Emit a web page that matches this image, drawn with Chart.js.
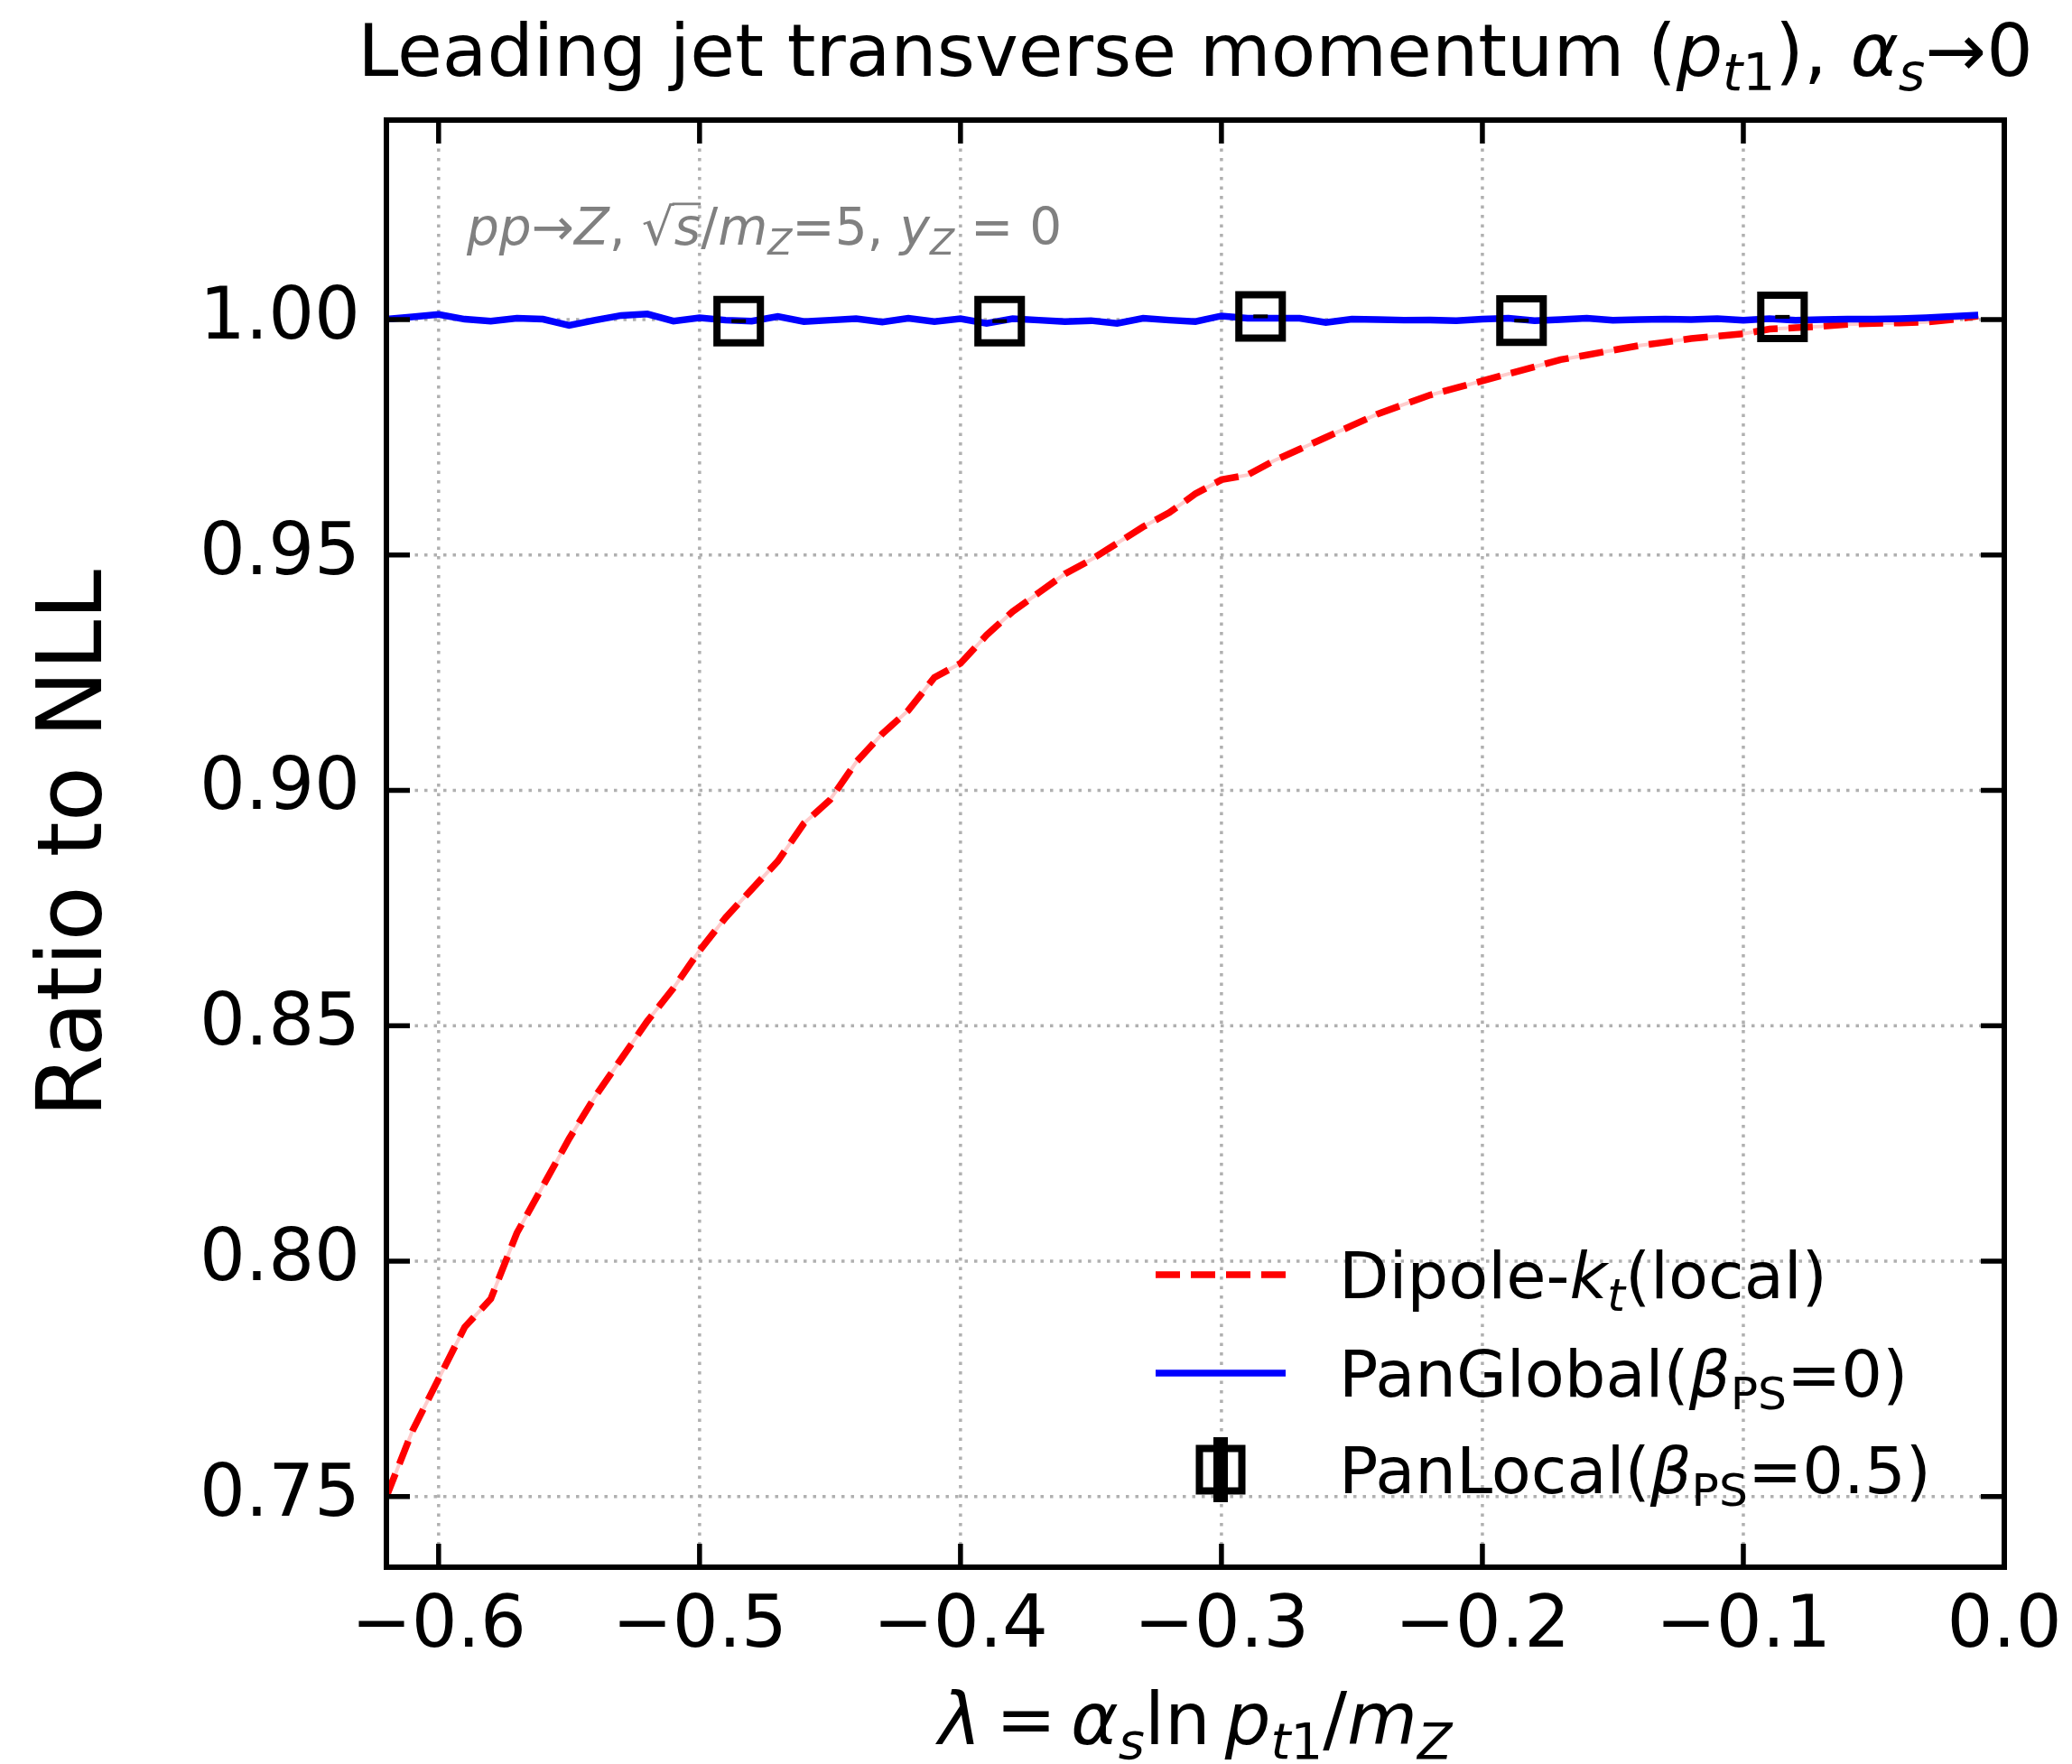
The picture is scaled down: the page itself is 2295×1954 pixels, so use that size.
<!DOCTYPE html>
<html>
<head>
<meta charset="utf-8">
<script src="https://cdn.jsdelivr.net/npm/chart.js@4.4.1/dist/chart.umd.min.js"></script>
<style>
  html, body { margin: 0; background: #fff; }
  canvas { display: block; }
</style>
</head>
<body>
<canvas id="c" width="2295" height="1954"></canvas>
<script>
const FONT = "'DejaVu Sans'";

// lambda grid of the two shower curves
const lambdaGrid = [
  -0.62, -0.61, -0.60, -0.59, -0.58, -0.57, -0.56, -0.55, -0.54, -0.53,
  -0.52, -0.51, -0.50, -0.49, -0.48, -0.47, -0.46, -0.45, -0.44, -0.43,
  -0.42, -0.41, -0.40, -0.39, -0.38, -0.37, -0.36, -0.35, -0.34, -0.33,
  -0.32, -0.31, -0.30, -0.29, -0.28, -0.27, -0.26, -0.25, -0.24, -0.23,
  -0.22, -0.21, -0.20, -0.19, -0.18, -0.17, -0.16, -0.15, -0.14, -0.13,
  -0.12, -0.11, -0.10, -0.09, -0.08, -0.07, -0.06, -0.05, -0.04, -0.03,
  -0.02, -0.01
];
const dipoleKt = [
  0.750, 0.764, 0.775, 0.786, 0.792, 0.806, 0.816, 0.826, 0.835, 0.843,
  0.851, 0.858, 0.866, 0.873, 0.879, 0.885, 0.893, 0.898, 0.906, 0.912,
  0.917, 0.924, 0.927, 0.933, 0.938, 0.942, 0.946, 0.949, 0.9525, 0.956,
  0.959, 0.963, 0.966, 0.967, 0.970, 0.9725, 0.975, 0.9775, 0.980, 0.982,
  0.984, 0.9855, 0.987, 0.9885, 0.990, 0.9915, 0.9925, 0.9935, 0.9945, 0.9952,
  0.996, 0.9965, 0.997, 0.998, 0.9983, 0.9986, 0.999, 0.9992, 0.9993, 0.9995,
  1.000, 1.0008
];
const panGlobal = [
  1.0001, 1.0006, 1.0011, 1.0001, 0.9997, 1.0003, 1.0001, 0.9988, 0.9999, 1.0009,
  1.0012, 0.9997, 1.0004, 0.9999, 0.9997, 1.0007, 0.9996, 0.9999, 1.0002, 0.9995,
  1.0003, 0.9996, 1.0002, 0.9992, 1.0002, 0.9999, 0.9996, 0.9998, 0.9992, 1.0003,
  0.9999, 0.9996, 1.0008, 1.0003, 1.0003, 1.0003, 0.9994, 1.0001, 1.0000, 0.9999,
  0.9999, 0.9998, 1.0001, 1.0003, 0.9998, 1.0000, 1.0003, 0.9999, 1.0000, 1.0001,
  1.0000, 1.0002, 0.9999, 1.0002, 0.9999, 1.0000, 1.0001, 1.0001, 1.0002, 1.0004,
  1.0007, 1.0010
];
const panLocalX = [-0.485, -0.385, -0.285, -0.185, -0.085];
const panLocalY = [0.9997, 0.9997, 1.0007, 0.9998, 1.0006];
const panLocalErr = [0.0004, 0.0004, 0.0004, 0.0004, 0.0004];

const xTicks = [-0.6, -0.5, -0.4, -0.3, -0.2, -0.1, 0.0];
const yTicks = [0.75, 0.80, 0.85, 0.90, 0.95, 1.00];

const toPoints = (xs, ys) => xs.map((x, i) => ({ x: x, y: ys[i] }));

// draws a run of text pieces: i = italic, s = subscript, o = overline
function drawRich(ctx, segs, x, y, size, align) {
  const pieces = segs.map(seg => {
    const fs = seg.s ? size * 0.7 : size;
    const font = (seg.i ? 'italic ' : '') + fs + 'px ' + FONT;
    ctx.font = font;
    return { seg: seg, font: font, w: ctx.measureText(seg.t).width };
  });
  const total = pieces.reduce((sum, p) => sum + p.w, 0);
  let cx = align === 'center' ? x - total / 2 : x;
  ctx.textAlign = 'left';
  ctx.textBaseline = 'alphabetic';
  pieces.forEach(p => {
    ctx.font = p.font;
    const dy = p.seg.s ? size * 0.2 : 0;
    ctx.fillText(p.seg.t, cx, y + dy);
    if (p.seg.o) {
      ctx.save();
      ctx.strokeStyle = ctx.fillStyle;
      ctx.lineWidth = size * 0.05;
      ctx.beginPath();
      ctx.moveTo(cx - 2, y - size * 0.8);
      ctx.lineTo(cx + p.w, y - size * 0.8);
      ctx.stroke();
      ctx.restore();
    }
    cx += p.w;
  });
  return total;
}

const framePlugin = {
  id: 'frame',
  beforeDatasetsDraw(chart) {
    const { ctx, chartArea: a, scales: { x, y } } = chart;
    ctx.save();
    ctx.strokeStyle = '#b0b0b0';
    ctx.lineWidth = 3.5;
    ctx.setLineDash([3.5, 7]);
    xTicks.forEach(v => {
      const px = x.getPixelForValue(v);
      ctx.beginPath(); ctx.moveTo(px, a.top); ctx.lineTo(px, a.bottom); ctx.stroke();
    });
    yTicks.forEach(v => {
      const py = y.getPixelForValue(v);
      ctx.beginPath(); ctx.moveTo(a.left, py); ctx.lineTo(a.right, py); ctx.stroke();
    });
    ctx.restore();
  },
  afterDatasetsDraw(chart) {
    const { ctx, chartArea: a, scales: { x, y } } = chart;
    ctx.save();

    // PanLocal error bars
    ctx.fillStyle = '#000';
    panLocalX.forEach((xv, i) => {
      const px = x.getPixelForValue(xv);
      const top = y.getPixelForValue(panLocalY[i] + panLocalErr[i]);
      const bot = y.getPixelForValue(panLocalY[i] - panLocalErr[i]);
      ctx.fillRect(px - 8, top, 16, bot - top);
    });

    // spines and inward ticks on all sides
    ctx.strokeStyle = '#000';
    ctx.lineWidth = 5.5;
    ctx.lineCap = 'butt';
    const tl = 26;
    xTicks.forEach(v => {
      const px = x.getPixelForValue(v);
      ctx.beginPath();
      ctx.moveTo(px, a.bottom); ctx.lineTo(px, a.bottom - tl);
      ctx.moveTo(px, a.top); ctx.lineTo(px, a.top + tl);
      ctx.stroke();
    });
    yTicks.forEach(v => {
      const py = y.getPixelForValue(v);
      ctx.beginPath();
      ctx.moveTo(a.left, py); ctx.lineTo(a.left + tl, py);
      ctx.moveTo(a.right, py); ctx.lineTo(a.right - tl, py);
      ctx.stroke();
    });
    ctx.lineWidth = 6;
    ctx.strokeRect(a.left, a.top, a.right - a.left, a.bottom - a.top);
    ctx.restore();
  },
  afterDraw(chart) {
    const { ctx, chartArea: a } = chart;
    const cx = (a.left + a.right) / 2;
    ctx.save();
    ctx.fillStyle = '#000';

    // title
    drawRich(ctx, [
      { t: 'Leading jet transverse momentum (' },
      { t: 'p', i: true }, { t: 't', i: true, s: true }, { t: '1', s: true },
      { t: '), ' },
      { t: 'α', i: true }, { t: 's', i: true, s: true },
      { t: '→0' }
    ], cx, 84, 81, 'center');

    // x label
    drawRich(ctx, [
      { t: 'λ', i: true }, { t: '\u2009=\u2009' },
      { t: 'α', i: true }, { t: 's', i: true, s: true },
      { t: 'ln\u2009' },
      { t: 'p', i: true }, { t: 't', i: true, s: true }, { t: '1', s: true },
      { t: '/' },
      { t: 'm', i: true }, { t: 'Z', i: true, s: true }
    ], cx, 1932, 80, 'center');

    // y label
    ctx.save();
    ctx.translate(112, (a.top + a.bottom) / 2);
    ctx.rotate(-Math.PI / 2);
    drawRich(ctx, [{ t: 'Ratio to NLL' }], 0, 0, 100, 'center');
    ctx.restore();

    // process annotation
    ctx.fillStyle = '#808080';
    drawRich(ctx, [
      { t: 'pp', i: true }, { t: '→' }, { t: 'Z', i: true }, { t: ', ' },
      { t: '√' }, { t: 's', i: true, o: true }, { t: '/' },
      { t: 'm', i: true }, { t: 'Z', i: true, s: true },
      { t: '=5, ' },
      { t: 'y', i: true }, { t: 'Z', i: true, s: true }, { t: ' = 0' }
    ], 517, 271, 56.5, 'left');

    // legend
    ctx.fillStyle = '#000';
    const lx0 = 1280, lx1 = 1424, tx = 1483;
    const rows = [1412, 1521, 1628];
    ctx.lineWidth = 7.5;
    ctx.strokeStyle = '#ff0000';
    ctx.setLineDash([27, 12]);
    ctx.beginPath(); ctx.moveTo(lx0, rows[0]); ctx.lineTo(lx1, rows[0]); ctx.stroke();
    ctx.setLineDash([]);
    ctx.strokeStyle = '#0000ff';
    ctx.beginPath(); ctx.moveTo(lx0, rows[1]); ctx.lineTo(lx1, rows[1]); ctx.stroke();
    const mx = (lx0 + lx1) / 2;
    ctx.fillRect(mx - 8, rows[2] - 36, 16, 72);
    ctx.strokeStyle = '#000';
    ctx.lineWidth = 8;
    ctx.strokeRect(mx - 23.5, rows[2] - 23.5, 47, 47);

    drawRich(ctx, [
      { t: 'Dipole-' }, { t: 'k', i: true }, { t: 't', i: true, s: true }, { t: '(local)' }
    ], tx, rows[0] + 26, 72, 'left');
    drawRich(ctx, [
      { t: 'PanGlobal(' }, { t: 'β', i: true }, { t: 'PS', s: true }, { t: '=0)' }
    ], tx, rows[1] + 26, 72, 'left');
    drawRich(ctx, [
      { t: 'PanLocal(' }, { t: 'β', i: true }, { t: 'PS', s: true }, { t: '=0.5)' }
    ], tx, rows[2] + 26, 72, 'left');
    ctx.restore();
  }
};

const fmtX = v => (v < -1e-9 ? '\u2212' : '') + Math.abs(v).toFixed(1);
const fmtY = v => v.toFixed(2);

new Chart(document.getElementById('c'), {
  type: 'line',
  data: {
    datasets: [
      {
        label: 'PanLocal',
        data: toPoints(panLocalX, panLocalY),
        showLine: false,
        pointStyle: 'rect',
        pointRadius: 34,
        pointBorderWidth: 8,
        pointBorderColor: '#000',
        pointBackgroundColor: 'rgba(0,0,0,0)'
      },
      {
        label: 'PanGlobal',
        data: toPoints(lambdaGrid, panGlobal),
        borderColor: '#0000ff',
        borderWidth: 7.5,
        pointRadius: 0,
        tension: 0
      },
      {
        label: 'Dipole-kt',
        data: toPoints(lambdaGrid, dipoleKt),
        borderColor: '#ff0000',
        borderWidth: 7.5,
        borderDash: [27, 12],
        pointRadius: 0,
        tension: 0
      },
      {
        label: 'band',
        data: toPoints(lambdaGrid, dipoleKt),
        borderColor: 'rgba(255,0,0,0.2)',
        borderWidth: 4,
        pointRadius: 0,
        tension: 0
      }
    ]
  },
  options: {
    responsive: false,
    animation: false,
    devicePixelRatio: 1,
    layout: { padding: { left: 0, right: 75, top: 133, bottom: 0 } },
    plugins: {
      legend: { display: false },
      title: { display: false },
      tooltip: { enabled: false }
    },
    scales: {
      x: {
        type: 'linear',
        min: -0.62,
        max: 0,
        afterBuildTicks: s => { s.ticks = xTicks.map(v => ({ value: v })); },
        afterFit: s => { s.height = 218; s.paddingLeft = 0; s.paddingRight = 0; },
        grid: { display: false },
        border: { display: false },
        ticks: {
          padding: 11,
          color: '#000',
          autoSkip: false,
          maxRotation: 0,
          font: { family: FONT, size: 80 },
          callback: v => fmtX(v)
        }
      },
      y: {
        type: 'linear',
        min: 0.735,
        max: 1.0424,
        afterBuildTicks: s => { s.ticks = yTicks.map(v => ({ value: v })); },
        afterFit: s => { s.width = 428; s.paddingTop = 0; s.paddingBottom = 0; },
        grid: { display: false },
        border: { display: false },
        ticks: {
          padding: 21,
          color: '#000',
          autoSkip: false,
          font: { family: FONT, size: 80 },
          callback: v => fmtY(v)
        }
      }
    }
  },
  plugins: [framePlugin]
});
</script>
</body>
</html>
